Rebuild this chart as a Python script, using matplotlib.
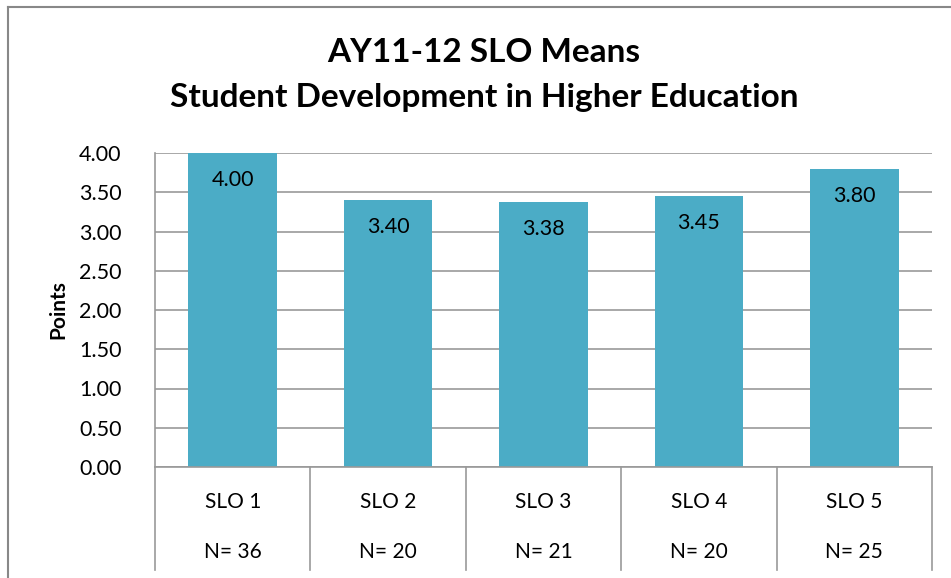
import matplotlib.pyplot as plt
import matplotlib.transforms as mtransforms
from matplotlib.lines import Line2D

categories = ["SLO 1", "SLO 2", "SLO 3", "SLO 4", "SLO 5"]
counts = ["N= 36", "N= 20", "N= 21", "N= 20", "N= 25"]
means = [4.00, 3.40, 3.38, 3.45, 3.80]
y_ticks = [0.0, 0.5, 1.0, 1.5, 2.0, 2.5, 3.0, 3.5, 4.0]

bar_color = "#4BACC6"
line_gray = "#999999"

plt.rcParams["font.family"] = ["Lato", "DejaVu Sans"]

fig = plt.figure(figsize=(9.51, 5.78), dpi=100)
ax = fig.add_axes([155 / 951, 1 - 467 / 578, (932 - 155) / 951, (467 - 153) / 578])

x = range(len(categories))
bars = ax.bar(x, means, width=0.57, color=bar_color, zorder=2)

for xi, v in zip(x, means):
    ax.text(xi, v - 0.22, f"{v:.2f}", ha="center", va="top", fontsize=15.5, zorder=3)

ax.set_xlim(-0.5, len(categories) - 0.5)
ax.set_ylim(0, 4)
ax.set_yticks(y_ticks)
ax.set_yticklabels([f"{t:.2f}" for t in y_ticks], fontsize=15.5)
ax.tick_params(axis="y", length=0, pad=24)
ax.set_xticks([])
ax.yaxis.grid(True, color=line_gray, linewidth=1.2, zorder=0)
ax.set_axisbelow(True)

for side in ["top", "right"]:
    ax.spines[side].set_visible(False)
ax.spines["left"].set_color(line_gray)
ax.spines["bottom"].set_color(line_gray)
ax.spines["left"].set_linewidth(1.2)
ax.spines["bottom"].set_linewidth(1.2)

ax.set_ylabel("Points", fontsize=15, fontweight="bold", labelpad=8)

# category table under the axis
trans = mtransforms.blended_transform_factory(ax.transData, ax.transAxes)
depth = (570 - 467) / (467 - 153)
for b in [i - 0.5 for i in range(len(categories) + 1)]:
    ax.plot([b, b], [0, -depth], color=line_gray, linewidth=1.2,
            transform=trans, clip_on=False)
for xi, cat, n in zip(x, categories, counts):
    ax.text(xi, -(502 - 467) / 314, cat, ha="center", va="center",
            fontsize=15, transform=trans)
    ax.text(xi, -(552 - 467) / 314, n, ha="center", va="center",
            fontsize=15, transform=trans)

fig.text(484 / 951, 1 - 52 / 578, "AY11-12 SLO Means", ha="center", va="center",
         fontsize=24, fontweight="bold")
fig.text(484 / 951, 1 - 98 / 578, "Student Development in Higher Education",
         ha="center", va="center", fontsize=24, fontweight="bold")

# chart area border (cropped at right and bottom)
fig.add_artist(Line2D([8 / 951, 8 / 951], [0, 1 - 7 / 578], color="#888888", linewidth=1.5))
fig.add_artist(Line2D([8 / 951, 1], [1 - 7 / 578, 1 - 7 / 578], color="#888888", linewidth=1.5))

fig.savefig("out.png", dpi=100)
